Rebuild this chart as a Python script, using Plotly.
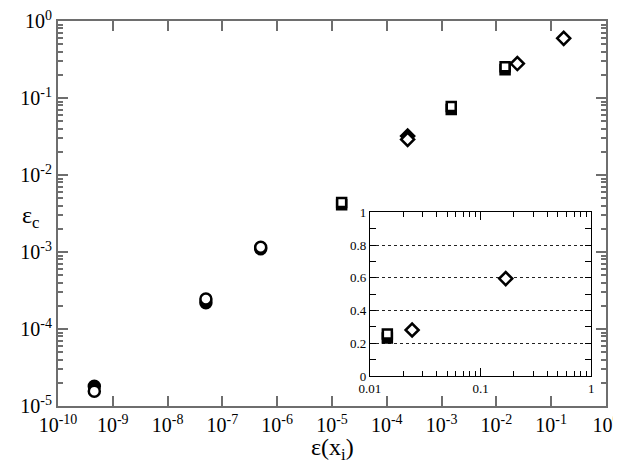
import plotly.graph_objects as go

# ---- data ----
circ_x = [4.6e-10, 5e-8, 5e-7]
circ_filled_y = [1.8e-5, 2.2e-4, 1.1e-3]
circ_open_y = [1.56e-5, 2.45e-4, 1.15e-3]

sq_x = [1.5e-5, 1.5e-3, 0.0144]
sq_filled_y = [4.1e-3, 0.0707, 0.232]
sq_open_y = [4.4e-3, 0.0773, 0.255]

dia_filled_x = [2.4e-4]
dia_filled_y = [0.032]
dia_open_x = [2.4e-4, 0.0241, 0.169]
dia_open_y = [0.029, 0.28, 0.595]

# inset data
in_sq_x = [0.0144]
in_sq_filled_y = [0.232]
in_sq_open_y = [0.257]
in_dia_x = [0.0241, 0.169]
in_dia_y = [0.281, 0.595]

main_x_exps = list(range(-10, 1))
main_y_exps = list(range(-5, 1))
inset_x_ticks = [0.01, 0.1, 1]
inset_x_labels = ["0.01", "0.1", "1"]
inset_y_ticks = [0, 0.2, 0.4, 0.6, 0.8, 1]
inset_y_labels = ["0", "0.2", "0.4", "0.6", "0.8", "1"]

FONT = "Liberation Serif"
FRAME = "#6e6e6e"

fig = go.Figure()

def filled(x, y, sym, size, xa="x", ya="y"):
    fig.add_trace(go.Scatter(x=x, y=y, mode="markers", xaxis=xa, yaxis=ya,
                             marker=dict(symbol=sym, size=size, color="black",
                                         line=dict(color="black", width=2.5)),
                             showlegend=False, cliponaxis=False))

def opened(x, y, sym, size, xa="x", ya="y"):
    fig.add_trace(go.Scatter(x=x, y=y, mode="markers", xaxis=xa, yaxis=ya,
                             marker=dict(symbol=sym, size=size, color="white",
                                         line=dict(color="black", width=2.5)),
                             showlegend=False, cliponaxis=False))

filled(circ_x, circ_filled_y, "circle", 11)
opened(circ_x, circ_open_y, "circle", 11)
filled(sq_x, sq_filled_y, "square", 9)
opened(sq_x, sq_open_y, "square", 9)
filled(dia_filled_x, dia_filled_y, "diamond", 10)
opened(dia_open_x, dia_open_y, "diamond", 10)

filled(in_sq_x, in_sq_filled_y, "square", 9, "x2", "y2")
opened(in_sq_x, in_sq_open_y, "square", 9, "x2", "y2")
opened(in_dia_x, in_dia_y, "diamond", 10, "x2", "y2")

main_y_minor = [k * 10.0 ** e for e in range(-5, 0) for k in range(2, 10)]
inset_x_minor = [k * 10.0 ** e for e in (-2, -1) for k in range(2, 10)]

fig.update_layout(
    width=621, height=468,
    margin=dict(l=50, r=23, t=13, b=70, autoexpand=False),
    paper_bgcolor="white", plot_bgcolor="white",
    font=dict(family=FONT, color="black"),
    xaxis=dict(type="log", range=[-10, 0], domain=[0, 1], anchor="y", automargin=False,
               showline=True, linecolor=FRAME, linewidth=2, mirror="ticks",
               ticks="inside", ticklen=10, tickwidth=1.5, tickcolor=FRAME,
               tickvals=[10.0 ** e for e in main_x_exps],
               ticktext=["10<sup>%d</sup>" % e for e in main_x_exps],
               tickfont=dict(family=FONT, size=20, color="black"),
               ticklabeloverflow="allow",
               showgrid=False, zeroline=False),
    yaxis=dict(type="log", range=[-5, 0], domain=[0, 1], anchor="x", automargin=False,
               showline=True, linecolor=FRAME, linewidth=2, mirror="ticks",
               ticks="inside", ticklen=10, tickwidth=1.5, tickcolor=FRAME,
               tickvals=[10.0 ** e for e in main_y_exps],
               ticktext=["10<sup>%d</sup>" % e for e in main_y_exps],
               tickfont=dict(family=FONT, size=20, color="black"),
               ticklabeloverflow="allow",
               minor=dict(ticks="inside", ticklen=5, tickwidth=1.5, tickcolor=FRAME,
                          tickvals=main_y_minor, showgrid=False),
               showgrid=False, zeroline=False),
    xaxis2=dict(type="log", range=[-2, 0], domain=[0.569, 0.973], anchor="y2", automargin=False,
                showline=True, linecolor="black", linewidth=1, mirror="ticks",
                ticks="inside", ticklen=8, tickwidth=1, tickcolor="black",
                tickvals=inset_x_ticks, ticktext=inset_x_labels,
                tickfont=dict(family=FONT, size=13, color="black"),
                minor=dict(ticks="inside", ticklen=5, tickwidth=1, tickcolor="black",
                           tickvals=inset_x_minor, showgrid=False),
                showgrid=False, zeroline=False),
    yaxis2=dict(range=[0, 1], domain=[0.078, 0.503], anchor="x2", automargin=False,
                showline=True, linecolor="black", linewidth=1, mirror="ticks",
                ticks="inside", ticklen=6, tickwidth=1, tickcolor="black",
                tickvals=inset_y_ticks, ticktext=inset_y_labels,
                tickfont=dict(family=FONT, size=13, color="black"),
                minor=dict(ticks="inside", ticklen=6, tickwidth=1, tickcolor="black",
                           dtick=0.1, showgrid=False),
                showgrid=True, gridcolor="#222222", gridwidth=1, griddash="dot",
                zeroline=False),
    annotations=[
        dict(text="ε<sub>c</sub>", xref="paper", yref="paper", x=-0.069, y=0.49,
             showarrow=False, font=dict(family=FONT, size=24, color="black")),
        dict(text="ε(x<sub>i</sub>)", xref="paper", yref="paper", x=0.5, y=-0.111,
             xanchor="center", yanchor="middle", showarrow=False,
             font=dict(family=FONT, size=24, color="black")),
    ],
)

fig.write_html("out.html")
